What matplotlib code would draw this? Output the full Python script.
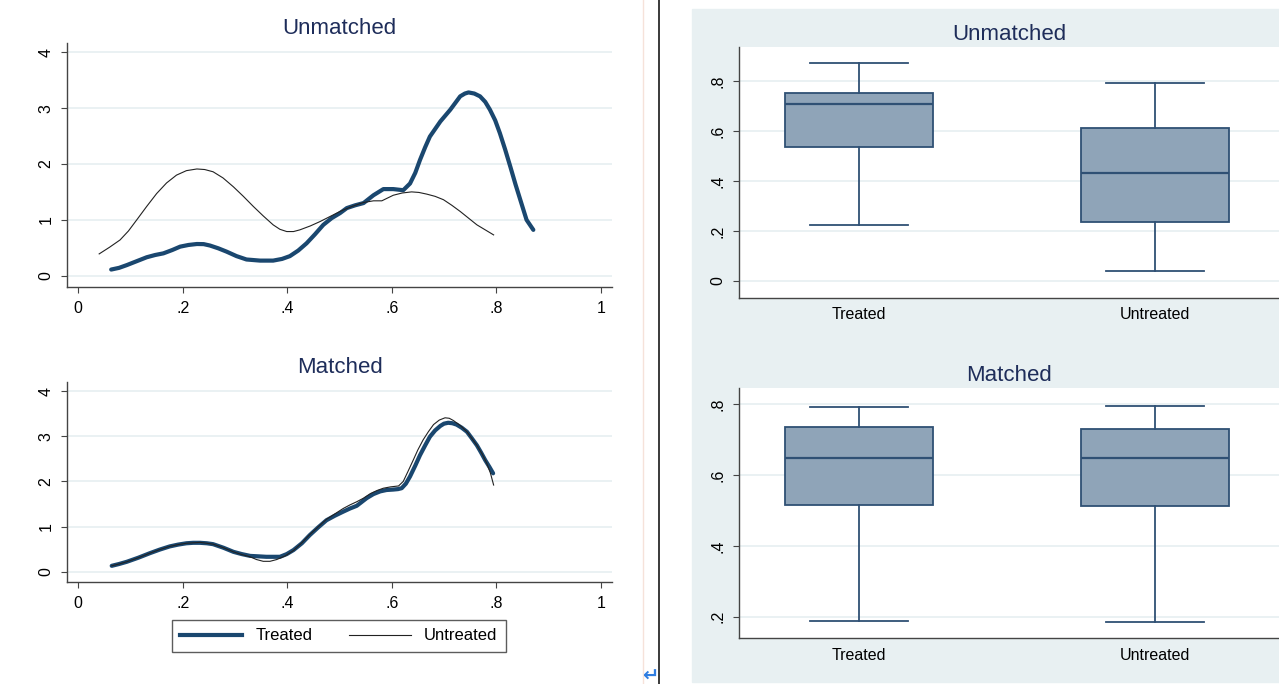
import matplotlib.pyplot as plt
from matplotlib.lines import Line2D

# density of the propensity score
um_treated_x = [0.063, 0.078, 0.093, 0.112, 0.131, 0.147, 0.163, 0.180, 0.195, 0.211, 0.227, 0.240,
                0.252, 0.268, 0.284, 0.303, 0.322, 0.348, 0.373, 0.390, 0.405, 0.421, 0.437, 0.453,
                0.469, 0.485, 0.501, 0.514, 0.530, 0.546, 0.565, 0.584, 0.603, 0.622, 0.635, 0.645,
                0.654, 0.664, 0.673, 0.693, 0.712, 0.731, 0.740, 0.747, 0.758, 0.769, 0.779, 0.788,
                0.798, 0.807, 0.817, 0.827, 0.837, 0.846, 0.858, 0.871]
um_treated_y = [0.11, 0.14, 0.19, 0.26, 0.33, 0.37, 0.40, 0.46, 0.52, 0.55, 0.567, 0.565,
                0.54, 0.49, 0.43, 0.35, 0.29, 0.27, 0.27, 0.30, 0.35, 0.45, 0.58, 0.74,
                0.91, 1.03, 1.12, 1.21, 1.26, 1.30, 1.44, 1.55, 1.55, 1.53, 1.65, 1.84,
                2.07, 2.30, 2.49, 2.76, 2.97, 3.21, 3.26, 3.28, 3.26, 3.21, 3.11, 2.97,
                2.78, 2.55, 2.26, 1.95, 1.63, 1.36, 1.0, 0.82]
um_untreated_x = [0.040, 0.060, 0.080, 0.096, 0.112, 0.131, 0.150, 0.169, 0.188, 0.207, 0.227, 0.242,
                  0.258, 0.277, 0.297, 0.316, 0.335, 0.354, 0.373, 0.386, 0.399, 0.412, 0.424, 0.444,
                  0.463, 0.482, 0.501, 0.524, 0.546, 0.565, 0.581, 0.603, 0.620, 0.638, 0.652, 0.667,
                  0.683, 0.699, 0.715, 0.731, 0.747, 0.763, 0.779, 0.795]
um_untreated_y = [0.39, 0.51, 0.64, 0.80, 1.0, 1.24, 1.47, 1.66, 1.80, 1.88, 1.91, 1.90,
                  1.86, 1.75, 1.59, 1.42, 1.24, 1.07, 0.91, 0.83, 0.79, 0.79, 0.82, 0.89,
                  0.97, 1.06, 1.15, 1.24, 1.31, 1.34, 1.34, 1.44, 1.48, 1.50, 1.49, 1.46,
                  1.42, 1.36, 1.26, 1.15, 1.03, 0.91, 0.82, 0.73]

m_treated_x = [0.064, 0.078, 0.093, 0.115, 0.137, 0.156, 0.175, 0.191, 0.207, 0.220, 0.233, 0.246,
               0.258, 0.278, 0.297, 0.313, 0.329, 0.345, 0.360, 0.373, 0.386, 0.399, 0.412, 0.428,
               0.443, 0.459, 0.475, 0.491, 0.507, 0.520, 0.533, 0.552, 0.565, 0.578, 0.590, 0.603,
               0.612, 0.619, 0.627, 0.635, 0.645, 0.654, 0.664, 0.673, 0.683, 0.693, 0.700, 0.708,
               0.716, 0.724, 0.734, 0.744, 0.753, 0.763, 0.771, 0.779, 0.787, 0.794]
m_treated_y = [0.13, 0.17, 0.22, 0.31, 0.41, 0.49, 0.56, 0.60, 0.63, 0.64, 0.64, 0.63,
               0.61, 0.53, 0.44, 0.39, 0.35, 0.34, 0.33, 0.33, 0.33, 0.39, 0.48, 0.63,
               0.81, 0.98, 1.14, 1.24, 1.33, 1.40, 1.46, 1.63, 1.72, 1.78, 1.81, 1.82,
               1.83, 1.85, 1.95, 2.11, 2.35, 2.58, 2.80, 2.99, 3.13, 3.23, 3.28, 3.30,
               3.29, 3.26, 3.19, 3.10, 2.96, 2.80, 2.64, 2.47, 2.32, 2.18]
m_untreated_x = [0.064, 0.078, 0.093, 0.115, 0.137, 0.156, 0.175, 0.191, 0.207, 0.220, 0.233, 0.246,
                 0.258, 0.278, 0.297, 0.313, 0.329, 0.341, 0.354, 0.367, 0.380, 0.396, 0.412, 0.428,
                 0.443, 0.459, 0.475, 0.491, 0.507, 0.520, 0.533, 0.546, 0.559, 0.572, 0.584, 0.598,
                 0.613, 0.622, 0.631, 0.641, 0.650, 0.660, 0.670, 0.680, 0.691, 0.702, 0.710, 0.718,
                 0.731, 0.744, 0.753, 0.763, 0.773, 0.782, 0.789, 0.795]
m_untreated_y = [0.13, 0.17, 0.22, 0.31, 0.41, 0.49, 0.56, 0.60, 0.63, 0.64, 0.65, 0.63,
                 0.61, 0.53, 0.44, 0.38, 0.33, 0.27, 0.23, 0.23, 0.27, 0.35, 0.47, 0.64,
                 0.82, 0.99, 1.16, 1.28, 1.40, 1.48, 1.55, 1.63, 1.73, 1.80, 1.85, 1.88,
                 1.90, 2.00, 2.22, 2.47, 2.70, 2.92, 3.10, 3.26, 3.36, 3.41, 3.40, 3.35,
                 3.24, 3.10, 2.96, 2.80, 2.61, 2.40, 2.18, 1.92]

# box plot stats: lower whisker, q1, median, q3, upper whisker
groups = ["Treated", "Untreated"]
um_boxes = [[0.224, 0.537, 0.707, 0.751, 0.871],
            [0.040, 0.235, 0.431, 0.613, 0.793]]
m_boxes = [[0.188, 0.515, 0.649, 0.736, 0.791],
           [0.186, 0.511, 0.647, 0.729, 0.793]]

W, H = 1279, 684
NAVY = "#1a476f"
TITLE = "#1e2d5a"
GRID = "#e6eff1"
AXC = "#444444"
plt.rcParams["font.family"] = ["Liberation Sans", "DejaVu Sans"]


def place(l, t, r, b):
    return [l / W, 1 - b / H, (r - l) / W, (b - t) / H]


def style(ax, yticks, ylabels):
    for s in ["top", "right"]:
        ax.spines[s].set_visible(False)
    for s in ["left", "bottom"]:
        ax.spines[s].set_color(AXC)
        ax.spines[s].set_linewidth(1.0)
    ax.set_yticks(yticks)
    ax.set_yticklabels(ylabels, rotation=90, va="center", fontsize=11.5)
    ax.tick_params(axis="y", length=4, width=0.8, color=AXC, pad=6)
    ax.grid(axis="y", color=GRID, linewidth=1.2)
    ax.set_axisbelow(True)


def density(ax, tx, ty, ux, uy, title, ylim):
    ax.plot(tx, ty, color=NAVY, lw=3.0, solid_capstyle="round", solid_joinstyle="round")
    ax.plot(ux, uy, color="#222222", lw=0.8, solid_joinstyle="round")
    ax.set_xlim(-0.021, 1.021)
    ax.set_ylim(*ylim)
    style(ax, [0, 1, 2, 3, 4], ["0", "1", "2", "3", "4"])
    ax.set_xticks([0, 0.2, 0.4, 0.6, 0.8, 1])
    ax.set_xticklabels(["0", ".2", ".4", ".6", ".8", "1"], fontsize=11.5)
    ax.tick_params(axis="x", length=4, width=0.8, color=AXC, pad=6)
    ax.set_title(title, fontsize=16, color=TITLE, pad=6)


def boxes(ax, stats, title, ylim, yticks, ylabels):
    data = [dict(whislo=s[0], q1=s[1], med=s[2], q3=s[3], whishi=s[4], label=g)
            for s, g in zip(stats, groups)]
    ax.bxp(data, positions=[1, 2], widths=0.5, showfliers=False, patch_artist=True,
           boxprops=dict(facecolor="#8fa4b8", edgecolor="#2f5074", linewidth=1.3),
           medianprops=dict(color="#2f5074", linewidth=1.6),
           whiskerprops=dict(color="#2f5074", linewidth=1.3),
           capprops=dict(color="#2f5074", linewidth=1.3), capwidths=0.33)
    ax.set_xlim(0.595, 2.419)
    ax.set_ylim(*ylim)
    style(ax, yticks, ylabels)
    ax.tick_params(axis="x", length=0, pad=7, labelsize=11.5)
    ax.set_title(title, fontsize=16, color=TITLE, pad=5)


fig = plt.figure(figsize=(W / 100, H / 100), dpi=100)

# right side background and page marks
fig.add_artist(plt.Rectangle((692 / W, 2 / H), 1 - 692 / W, 1 - 11 / H,
                             transform=fig.transFigure, color="#e8f0f2", zorder=-5))
fig.add_artist(Line2D([643 / W, 643 / W], [0, 1], color="#f6e2da", lw=1, zorder=-5))
fig.add_artist(Line2D([659 / W, 659 / W], [0, 1], color="#3a3a3a", lw=1.4, zorder=-5))
fig.text(650 / W, 1 - 676 / H, "\u21b5", color="#2f7de1", fontsize=14,
         ha="center", va="center", family="DejaVu Sans", fontweight="bold")

ax1 = fig.add_axes(place(67.3, 42.7, 611.7, 286.7))
density(ax1, um_treated_x, um_treated_y, um_untreated_x, um_untreated_y, "Unmatched", (-0.197, 4.17))

ax2 = fig.add_axes(place(67.3, 381.7, 611.7, 582.3))
density(ax2, m_treated_x, m_treated_y, m_untreated_x, m_untreated_y, "Matched", (-0.235, 4.21))

handles = [Line2D([], [], color=NAVY, lw=3.0), Line2D([], [], color="#222222", lw=0.8)]
leg = fig.legend(handles, ["Treated", "Untreated"], loc="center", ncol=2,
                 bbox_to_anchor=(339 / W, 1 - 636 / H), fontsize=12, frameon=True,
                 fancybox=False, edgecolor="#333333", handlelength=3.7,
                 handletextpad=0.8, columnspacing=2.2, borderpad=0.5)
leg.get_frame().set_linewidth(1.0)

ax3 = fig.add_axes(place(739.3, 46.7, 1279, 297.7))
boxes(ax3, um_boxes, "Unmatched", (-0.067, 0.937), [0, 0.2, 0.4, 0.6, 0.8], ["0", ".2", ".4", ".6", ".8"])

ax4 = fig.add_axes(place(739.3, 387.7, 1279, 638.3))
boxes(ax4, m_boxes, "Matched", (0.139, 0.846), [0.2, 0.4, 0.6, 0.8], [".2", ".4", ".6", ".8"])

fig.savefig("out.png", dpi=100)
